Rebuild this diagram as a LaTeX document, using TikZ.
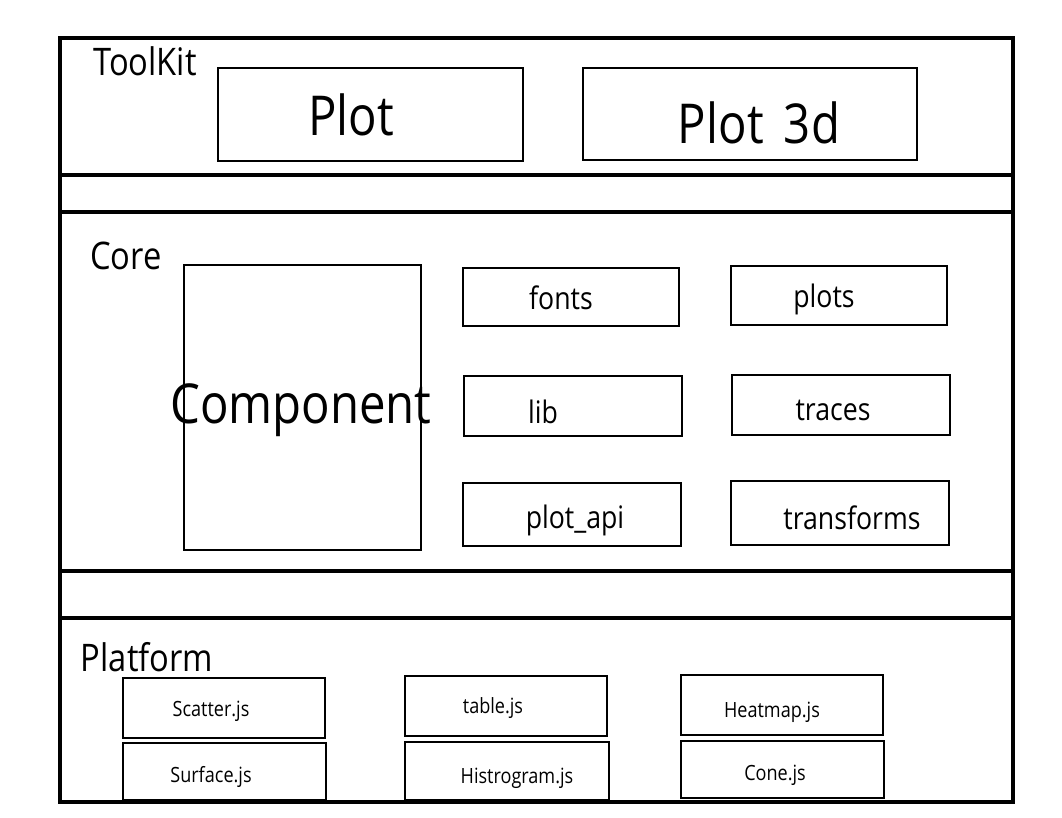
\documentclass[tikz,border=0pt]{standalone}
\usepackage{fontspec}
\setmainfont{Open Sans}[FakeStretch=0.86]
\tikzset{
  box/.style={draw,rectangle,inner sep=0pt,line width=2.5pt},
  huge/.style={font=\fontsize{55}{60}\selectfont},
  title/.style={font=\fontsize{38}{42}\selectfont},
  mid/.style={font=\fontsize{31}{34}\selectfont},
  small/.style={font=\fontsize{21}{24}\selectfont}
}
\begin{document}
\begin{tikzpicture}[x=1pt,y=-1pt,color=black]
\useasboundingbox (0,0) rectangle (1062,818);
% frame and layers
\draw[line width=4pt] (60,38) rectangle (1013,802);
\coordinate (L1) at (60,175);  \coordinate (R1) at (1013,175);
\coordinate (L2) at (60,212);  \coordinate (R2) at (1013,212);
\coordinate (L3) at (60,571);  \coordinate (R3) at (1013,571);
\coordinate (L4) at (60,618);  \coordinate (R4) at (1013,618);
\draw[line width=3.5pt] (L1) -- (R1);
\draw[line width=3.5pt] (L2) -- (R2);
\draw[line width=3.5pt] (L3) -- (R3);
\draw[line width=3.5pt] (L4) -- (R4);

% ToolKit
\node(TK) [title] at (145,61) {ToolKit};
\node(P2) [box,minimum width=305pt,minimum height=93pt] at (370.5,114.5) {};
\node(P3) [box,minimum width=334pt,minimum height=92pt] at (750,114) {};
\node [huge] at (351,115) {Plot};
\node [huge] at (759,123) {Plot\kern8pt\ 3d};

% Core
\node(CO) [title] at (126,256) {Core};
\node(CP) [box,minimum width=237pt,minimum height=285pt] at (302.5,407.5) {};
\node(FO) [box,minimum width=216pt,minimum height=58pt] at (571,297) {};
\node(PS) [box,minimum width=216pt,minimum height=59pt] at (839,295.5) {};
\node(LB) [box,minimum width=218pt,minimum height=60pt] at (573,406) {};
\node(TR) [box,minimum width=218pt,minimum height=60pt] at (841,405) {};
\node(PA) [box,minimum width=218pt,minimum height=63pt] at (572,514.5) {};
\node(TF) [box,minimum width=218pt,minimum height=64pt] at (840,513) {};
\node [huge] at (301,410) {Component};
\node [mid] at (561,298) {fonts};
\node [mid] at (824,299) {plots};
\node [mid] at (543,412) {lib};
\node [mid] at (833,410) {traces};
\node [mid] at (575,520) {plot\_api};
\node [mid] at (852,518) {transforms};

% Platform
\node(PF) [title] at (147,657) {Platform};
\node(SC) [box,minimum width=202pt,minimum height=60pt] at (224,708) {};
\node(SU) [box,minimum width=203pt,minimum height=57pt] at (224.5,771.5) {};
\node(TB) [box,minimum width=202pt,minimum height=60pt] at (506,706) {};
\node(HI) [box,minimum width=204pt,minimum height=58pt] at (507,771) {};
\node(HM) [box,minimum width=202pt,minimum height=60pt] at (782,705) {};
\node(CN) [box,minimum width=203pt,minimum height=57pt] at (782.5,769.5) {};
\node [small] at (211,711) {Scatter.js};
\node [small] at (211,777) {Surface.js};
\node [small] at (493,708) {table.js};
\node [small] at (517,778) {Histrogram.js};
\node [small] at (772,712) {Heatmap.js};
\node [small] at (775,775) {Cone.js};
\end{tikzpicture}
\end{document}
